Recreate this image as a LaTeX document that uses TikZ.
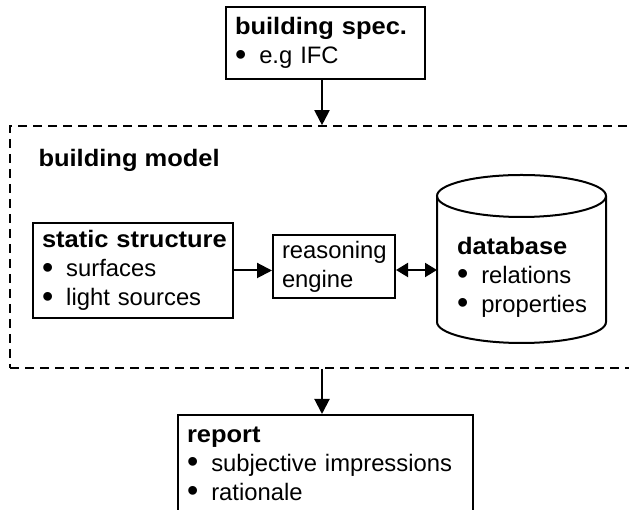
\documentclass[tikz,border=0pt]{standalone}
\usepackage{fontspec}
\setmainfont{Liberation Sans}
\newfontfamily\hdfont[FakeStretch=1.07]{Liberation Sans}
\usetikzlibrary{arrows.meta,calc}
\newcommand{\bul}[1]{\mbox{\raisebox{-1.5pt}{\scalebox{1.35}{\textbullet}}\hspace{13pt}#1}}
\newcommand{\hd}[1]{\mbox{\hdfont\bfseries #1}}

\begin{document}
\begin{tikzpicture}[x=1pt,y=1pt,
  every node/.style={font=\fontsize{23.8}{29}\selectfont},
  box/.style={draw,line width=2pt,align=left,inner xsep=9pt,inner ysep=0pt,
    text width=#1-18pt,minimum width=#1},
  flow/.style={line width=2pt,-{Triangle[length=15pt,width=15pt]}},
  dflow/.style={line width=2pt,{Triangle[length=12pt,width=14pt]}-{Triangle[length=12pt,width=14pt]}}]
  \useasboundingbox (0,0) rectangle (629,510);
  \clip (0,0) rectangle (629,510);
  \node[box=199pt,minimum height=72pt] (spec) at (325.5,467)
    {\hd{building spec.}\\\bul{e.g IFC}};
  \node[draw,dash pattern=on 9pt off 6pt,line width=1.6pt,
    minimum width=630pt,minimum height=242pt] (model) at (325,263) {};
  \node[anchor=base west] (title) at (35,343) {\hd{building model}};
  \node[box=200pt,minimum height=95pt] (static) at (133,239.5)
    {\hd{static structure}\\\bul{surfaces}\\\bul{light sources}};
  \node[box=122pt,minimum height=63pt] (reason) at (334,243.5)
    {reasoning\\engine};
  \node[align=left,text width=129pt,inner sep=0pt] (db) at (521.5,233)
    {\hd{database}\\\bul{relations}\\\bul{properties}};
  \draw[line width=2pt] (521.5,314) ellipse [x radius=84.5pt,y radius=21pt];
  \draw[line width=2pt] (437,314) -- (437,188)
    arc [start angle=180,end angle=360,x radius=84.5pt,y radius=21pt] -- (606,314);
  \coordinate (dbside) at (437,240);
  \node[box=295pt,minimum height=98pt] (report) at (325.5,46)
    {\hd{report}\\\bul{subjective impressions}\\\bul{rationale}};
  \draw[flow] ([xshift=-3.5pt]spec.south) -- ([xshift=-3.5pt]spec.south |- model.north);
  \draw[flow] ([xshift=-3pt]model.south) -- ([xshift=-3pt]model.south |- report.north);
  \draw[flow] (static.east) -- (static.east -| reason.west);
  \draw[dflow] (reason.east |- dbside) -- (dbside);
\end{tikzpicture}
\end{document}
